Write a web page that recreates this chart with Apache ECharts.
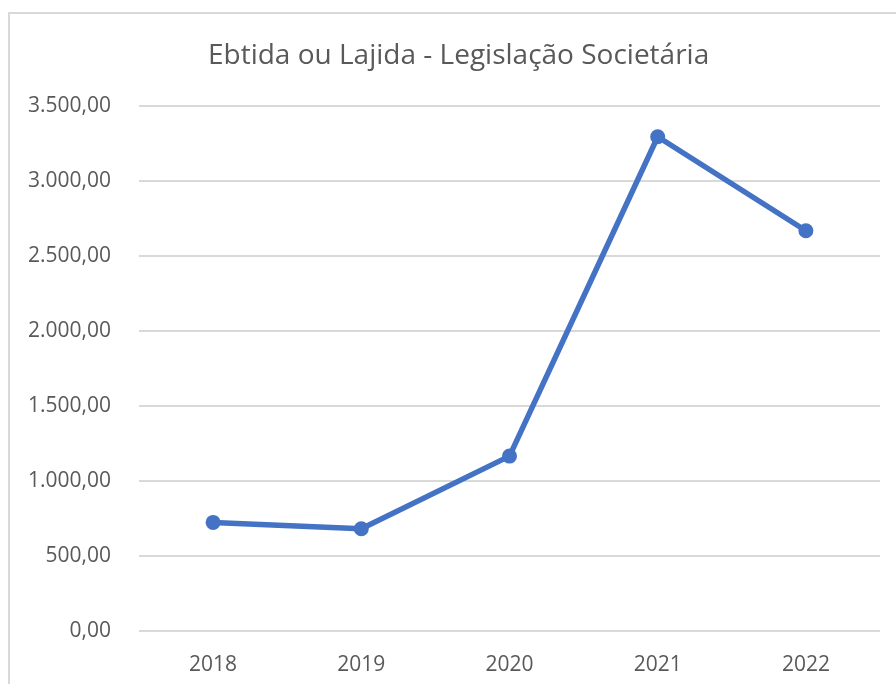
<!DOCTYPE html>
<html lang="pt">

<head>
    <title>Ebtida ou Lajida</title>
    <meta charset="utf-8">
    <style>
        body {
            margin: 0;
            background-color: white;
            overflow: hidden;
        }

        #frame {
            position: absolute;
            left: 8px;
            top: 12px;
            width: 960px;
            height: 760px;
            border: 2px solid #d9d9d9;
        }

        #chart {
            position: absolute;
            left: 0;
            top: 0;
            width: 896px;
            height: 684px;
        }
    </style>
</head>

<body>
    <div id="frame"></div>
    <div id="chart"></div>
    <script src="https://cdn.jsdelivr.net/npm/echarts@6/dist/echarts.min.js"></script>
    <script>
        var years = ["2018", "2019", "2020", "2021", "2022"];
        var ebitda = [724, 682, 1166, 3295, 2668];
        var yTicks = [0, 500, 1000, 1500, 2000, 2500, 3000, 3500];

        function brNumber(v) {
            var s = Math.abs(v).toFixed(2).split(".");
            var whole = s[0].replace(/\B(?=(\d{3})+(?!\d))/g, ".");
            return (v < 0 ? "-" : "") + whole + "," + s[1];
        }

        var font = "'Open Sans', 'DejaVu Sans', sans-serif";
        var chart = echarts.init(document.getElementById("chart"));

        chart.setOption({
            animation: false,
            title: {
                text: "Ebtida ou Lajida - Legislação Societária",
                left: 208,
                top: 37,
                padding: [5, 0, 5, 0],
                textStyle: {
                    fontFamily: font,
                    fontSize: 28,
                    fontWeight: "normal",
                    color: "#595959"
                }
            },
            grid: {
                left: 139,
                right: 16,
                top: 106,
                bottom: 53
            },
            xAxis: {
                type: "category",
                data: years,
                boundaryGap: true,
                axisLine: { show: false },
                axisTick: { show: false },
                axisLabel: {
                    margin: 24,
                    fontFamily: font,
                    fontSize: 21,
                    color: "#595959"
                }
            },
            yAxis: {
                type: "value",
                min: yTicks[0],
                max: yTicks[yTicks.length - 1],
                interval: 500,
                axisLine: { show: false },
                axisTick: { show: false },
                axisLabel: {
                    margin: 28,
                    fontFamily: font,
                    fontSize: 21,
                    color: "#595959",
                    formatter: brNumber
                },
                splitLine: {
                    lineStyle: { color: "#d9d9d9", width: 2 }
                }
            },
            series: [{
                type: "line",
                data: ebitda,
                symbol: "circle",
                symbolSize: 15,
                lineStyle: { color: "#4472c4", width: 5.5 },
                itemStyle: { color: "#4472c4" }
            }]
        });
    </script>
</body>

</html>
